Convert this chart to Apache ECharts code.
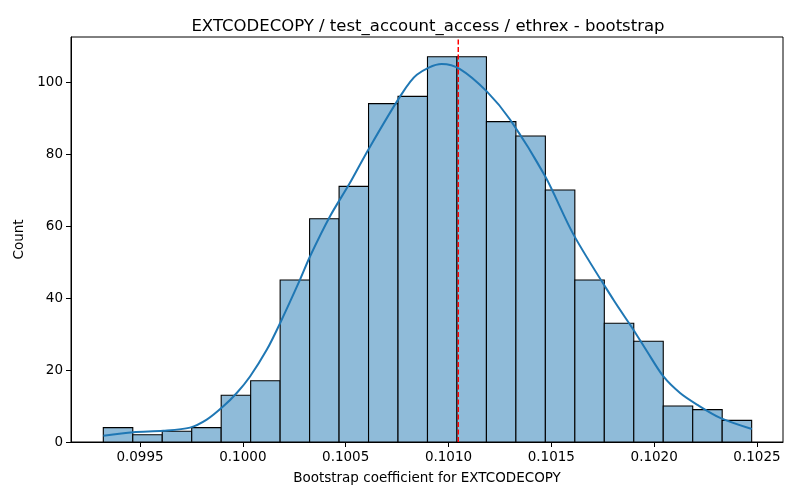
<!DOCTYPE html>
<html>
<head>
<meta charset="utf-8">
<script src="https://cdn.jsdelivr.net/npm/echarts@6/dist/echarts.min.js"></script>
<style>html,body{margin:0;padding:0;background:#fff;}#c{width:800px;height:500px;}</style>
</head>
<body>
<div id="c"></div>
<script>
// Histogram data
const binStart = 0.0993215;
const binWidth = 0.0001433;
const counts = [4, 2, 3, 4, 13, 17, 45, 62, 71, 94, 96, 107, 107, 89, 85, 70, 45, 33, 28, 10, 9, 6];
// KDE curve
const kdeX = [0.099322, 0.0994674, 0.0996133, 0.0997432, 0.0998244, 0.0999052, 0.0999703, 0.100035, 0.1001162, 0.100181,
  0.100278, 0.100327, 0.100424, 0.100521, 0.10061, 0.100765, 0.100846, 0.100967, 0.101056, 0.101186,
  0.1013, 0.10147, 0.101608, 0.101802, 0.101899, 0.101965, 0.102045, 0.102126, 0.102208, 0.102321, 0.102475];
const kdeY = [1.75, 2.7, 3.1, 4.0, 6.2, 9.9, 13.6, 18.2, 25.6, 33.0,
  45.1, 51.6, 62.7, 72.0, 81.2, 96, 102, 105, 103.6, 97.4,
  89.5, 73.8, 57.6, 39.5, 31.2, 25.2, 18.2, 13.6, 10.4, 6.7, 3.6];
const refLine = 0.1010475;
const yMax = 112.5;
const xTicks = [0.0995, 0.1000, 0.1005, 0.1010, 0.1015, 0.1020, 0.1025];
const titleText = 'EXTCODECOPY / test_account_access / ethrex - bootstrap';
const xName = 'Bootstrap coefficient for EXTCODECOPY';
const yName = 'Count';

const font = 'DejaVu Sans';
const chart = echarts.init(document.getElementById('c'), null, {renderer: 'canvas'});
const barData = counts.map((c, i) => [binStart + i * binWidth, binStart + (i + 1) * binWidth, c]);

chart.setOption({
  animation: false,
  backgroundColor: '#fff',
  title: {
    text: titleText, left: 423, top: 13, textAlign: 'center',
    textStyle: {fontFamily: font, fontSize: 16.5, fontWeight: 'normal', color: '#000'}
  },
  grid: {left: 71, right: 17, top: 37, bottom: 58, show: true, borderColor: '#000', borderWidth: 1, backgroundColor: 'transparent'},
  xAxis: {
    type: 'value', min: 0.0991644, max: 0.1026265,
    name: xName, nameLocation: 'middle', nameGap: 29,
    nameTextStyle: {fontFamily: font, fontSize: 13.5, color: '#000'},
    axisLine: {show: true, lineStyle: {color: '#000', width: 1}},
    axisTick: {show: true, length: 5, customValues: xTicks, lineStyle: {color: '#000'}},
    axisLabel: {customValues: xTicks, margin: 8, fontFamily: font, fontSize: 13.5, color: '#000', formatter: v => v.toFixed(4)},
    splitLine: {show: false}
  },
  yAxis: {
    type: 'value', min: 0, max: yMax, interval: 20,
    name: yName, nameLocation: 'middle', nameGap: 36,
    nameTextStyle: {fontFamily: font, fontSize: 13.5, color: '#000'},
    axisLine: {show: true, lineStyle: {color: '#000', width: 1}},
    axisTick: {show: true, length: 5, lineStyle: {color: '#000'}},
    axisLabel: {margin: 8, fontFamily: font, fontSize: 13.5, color: '#000', showMaxLabel: false},
    splitLine: {show: false}
  },
  series: [
    {
      type: 'custom',
      data: barData,
      encode: {x: [0, 1], y: 2},
      renderItem: function (params, api) {
        const p0 = api.coord([api.value(0), 0]);
        const p1 = api.coord([api.value(1), api.value(2)]);
        return {
          type: 'rect',
          shape: {x: p0[0], y: p1[1], width: p1[0] - p0[0], height: p0[1] - p1[1]},
          style: {fill: '#8fbbd9', stroke: '#000', lineWidth: 1.1}
        };
      },
      z: 2
    },
    {
      type: 'line',
      data: kdeX.map((x, i) => [x, kdeY[i]]),
      smooth: 0.3,
      showSymbol: false,
      lineStyle: {color: '#1f77b4', width: 2},
      z: 3
    },
    {
      type: 'line',
      data: [[refLine, 0], [refLine, yMax]],
      showSymbol: false,
      lineStyle: {color: '#ff0000', type: [5, 2.5], width: 1.5},
      z: 4
    }
  ]
});
</script>
</body>
</html>
